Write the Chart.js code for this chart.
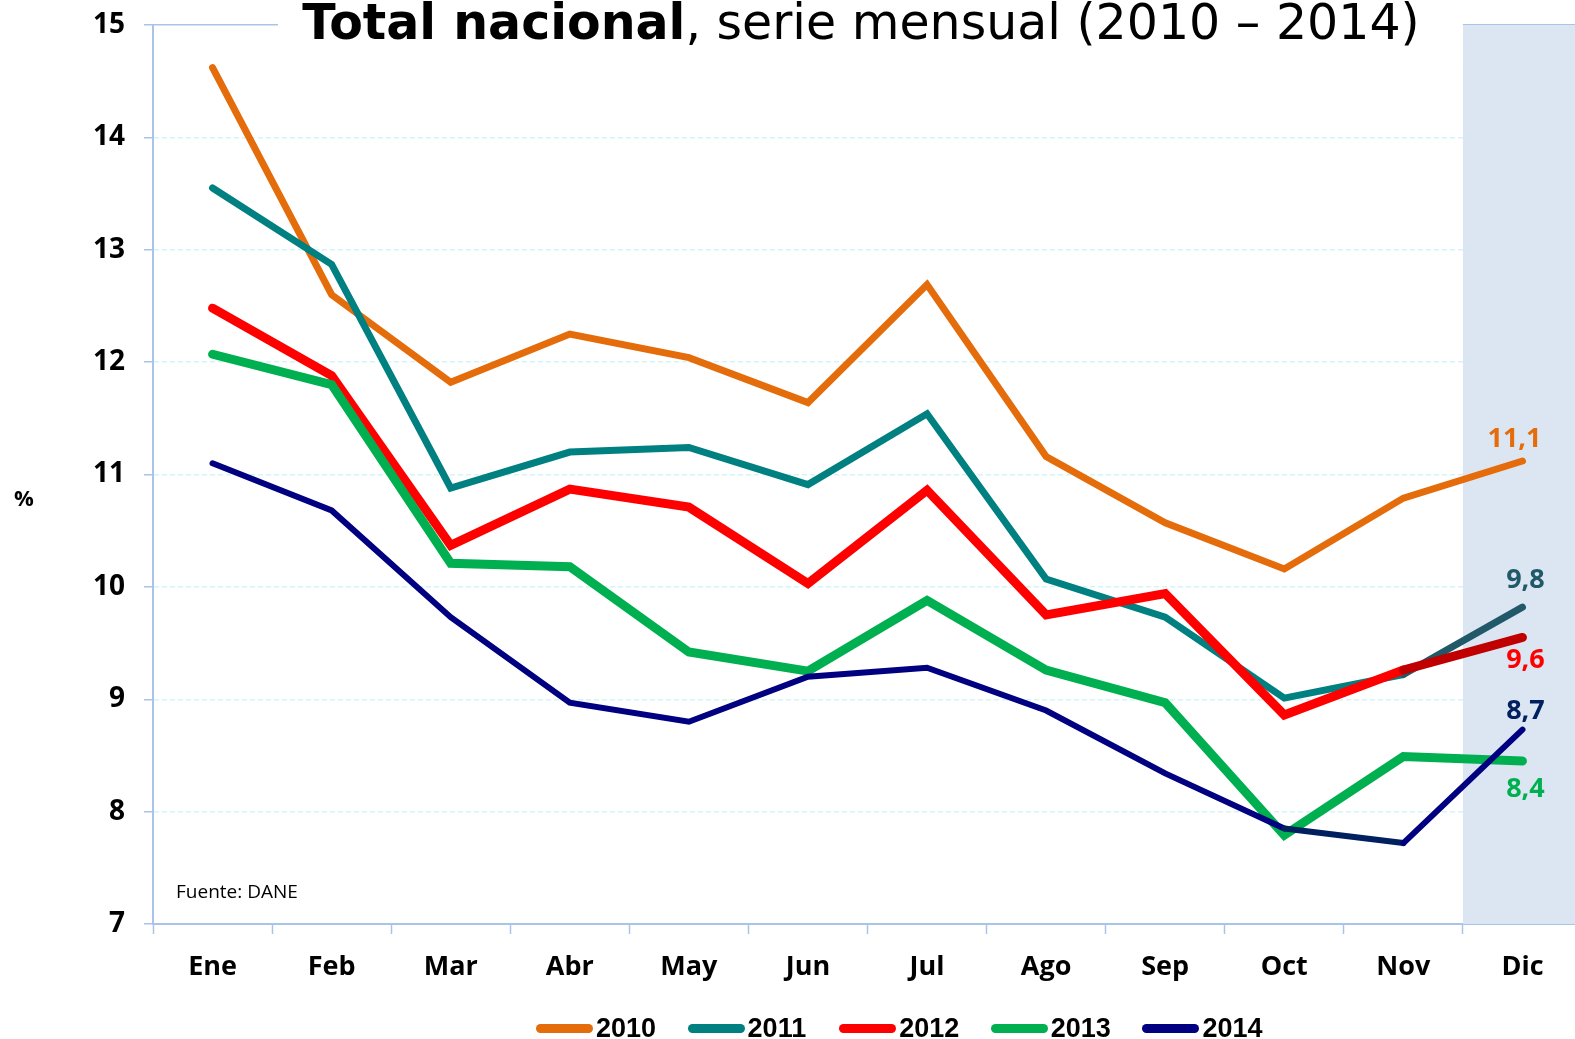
<!DOCTYPE html>
<html>
<head>
<meta charset="utf-8">
<script src="https://cdn.jsdelivr.net/npm/chart.js@4.4.0/dist/chart.umd.min.js"></script>
<style>
    body { margin: 0; background: #fff; overflow: hidden; }
    #wrap { position: relative; width: 1575px; height: 1039px; overflow: hidden; }
    #legend { position: absolute; left: 536px; top: 1013px; display: flex; }
    .legend-item { display: flex; align-items: center; width: 151.6px; height: 30px; }
    .legend-color { display: inline-block; width: 57px; height: 9px; border-radius: 5px; margin-right: 3px; }
    .legend-text { font: bold 27px 'Liberation Sans Narrow', 'Liberation Sans', sans-serif; color: #000; line-height: 30px; }
</style>
</head>
<body>
<div id="wrap">
    <!-- the plot runs a few pixels past the right edge in the original -->
    <canvas id="chart" width="1582" height="1039"></canvas>
    <div id="legend"></div>
</div>
<script>
const months = ['Ene', 'Feb', 'Mar', 'Abr', 'May', 'Jun', 'Jul', 'Ago', 'Sep', 'Oct', 'Nov', 'Dic'];
const years = ['2010', '2011', '2012', '2013', '2014'];
const s2010 = [14.62, 12.60, 11.82, 12.25, 12.04, 11.64, 12.69, 11.16, 10.57, 10.16, 10.79, 11.12];
const s2011 = [13.55, 12.87, 10.88, 11.20, 11.24, 10.91, 11.54, 10.07, 9.73, 9.01, 9.22, 9.82];
const s2012 = [12.48, 11.88, 10.37, 10.87, 10.71, 10.03, 10.86, 9.75, 9.94, 8.86, 9.26, 9.55];
const s2013 = [12.07, 11.80, 10.21, 10.18, 9.42, 9.25, 9.88, 9.26, 8.97, 7.79, 8.49, 8.45];
const s2014 = [11.10, 10.68, 9.73, 8.97, 8.80, 9.20, 9.28, 8.90, 8.34, 7.85, 7.72, 8.73];
const endLabels = ['11,1', '9,8', '9,6', '8,4', '8,7'];
const yTicks = [7, 8, 9, 10, 11, 12, 13, 14, 15];

const colors = ['#E46C0A', '#008080', '#FF0000', '#00B050', '#000080'];
const labelColors = ['#E46C0A', '#215968', '#FF0000', '#00B050', '#002060'];
const widths = [7, 7, 9, 9, 6];
// a few segments are drawn in a darker shade in the original
const darkSegments = { 1: { 10: '#215968' }, 2: { 10: '#C00000' }, 4: { 9: '#002060' } };
const labelOffsets = [[-8, -22], [3, -27], [3, 23], [3, 28], [3, -18]];
const axisColor = '#A9C4E8';

Chart.defaults.font.family = "'Open Sans', sans-serif";
Chart.defaults.color = '#000';

const series = [s2010, s2011, s2012, s2013, s2014];

const extras = {
    id: 'extras',
    beforeDatasetsDraw(chart) {
        const ctx = chart.ctx;
        const a = chart.chartArea;
        const x = chart.scales.x;
        const xs = (x.getPixelForValue(10) + x.getPixelForValue(11)) / 2;
        ctx.save();
        ctx.fillStyle = '#DCE6F2';
        ctx.fillRect(xs, a.top, a.right - xs, a.bottom - a.top);
        // title box
        ctx.fillStyle = '#fff';
        ctx.fillRect(278, 0, xs - 278, 60);
        ctx.fillStyle = '#000';
        ctx.textBaseline = 'alphabetic';
        const bold = "bold 49px 'DejaVu Sans'";
        const reg = "49px 'DejaVu Sans'";
        const t1 = 'Total nacional';
        const t2 = ', serie mensual (2010 \u2013 2014)';
        ctx.font = bold;
        const w1 = ctx.measureText(t1).width;
        ctx.font = reg;
        const w2 = ctx.measureText(t2).width;
        const x0 = 861 - (w1 + w2) / 2;
        ctx.font = bold;
        ctx.fillText(t1, x0, 39);
        ctx.font = reg;
        ctx.fillText(t2, x0 + w1, 39);
        // axis unit and source
        ctx.font = "bold 22px 'Open Sans'";
        ctx.textAlign = 'center';
        ctx.textBaseline = 'middle';
        ctx.fillText('%', 24, 500);
        ctx.font = "19px 'Open Sans'";
        ctx.textAlign = 'left';
        ctx.fillText('Fuente: DANE', 176, 893);
        ctx.restore();
    },
    afterDatasetsDraw(chart) {
        const ctx = chart.ctx;
        ctx.save();
        ctx.font = "bold 27px 'Open Sans'";
        ctx.textAlign = 'center';
        ctx.textBaseline = 'middle';
        chart.data.datasets.forEach((ds, i) => {
            const pts = chart.getDatasetMeta(i).data;
            const p = pts[pts.length - 1];
            ctx.fillStyle = labelColors[i];
            ctx.fillText(endLabels[i], p.x + labelOffsets[i][0], p.y + labelOffsets[i][1]);
        });
        ctx.restore();
    }
};

const chart = new Chart(document.getElementById('chart').getContext('2d'), {
    type: 'line',
    data: {
        labels: months,
        datasets: years.map((y, i) => ({
            label: y,
            data: series[i],
            borderColor: colors[i],
            backgroundColor: colors[i],
            borderWidth: widths[i],
            borderCapStyle: 'round',
            borderJoinStyle: 'miter',
            pointRadius: 0,
            tension: 0,
            order: 5 - i,
            segment: {
                borderColor: c => (darkSegments[i] && darkSegments[i][c.p0DataIndex]) || colors[i]
            }
        }))
    },
    options: {
        responsive: false,
        animation: false,
        devicePixelRatio: 1,
        layout: { padding: { top: 25, right: 0, left: 0, bottom: 0 } },
        plugins: {
            legend: { display: false },
            tooltip: { enabled: false }
        },
        scales: {
            x: {
                offset: true,
                grid: { offset: true, drawOnChartArea: false, tickLength: 10, tickColor: axisColor, tickWidth: 1.5 },
                border: { color: axisColor, width: 2 },
                ticks: { font: { size: 27, weight: 'bold' }, padding: 17, maxRotation: 0 },
                afterFit: s => { s.height = 115; s.paddingLeft = 0; s.paddingRight = 0; }
            },
            y: {
                min: 7,
                max: 15,
                afterBuildTicks: s => { s.ticks = yTicks.map(v => ({ value: v })); },
                grid: {
                    color: c => c.tick && c.tick.value === 15 ? axisColor : '#D2F6F8',
                    lineWidth: 1.5,
                    tickLength: 9,
                    tickColor: axisColor
                },
                border: {
                    color: axisColor,
                    width: 2,
                    dash: c => c.tick && c.tick.value === 15 ? [] : [5, 3]
                },
                ticks: { font: { size: 28, weight: 'bold' }, padding: 19 },
                afterFit: s => { s.width = 153; s.paddingTop = 0; s.paddingBottom = 0; }
            }
        }
    },
    plugins: [extras]
});

document.getElementById('legend').innerHTML = chart.data.datasets.map(ds => `
    <div class="legend-item">
        <span class="legend-color" style="background-color: ${ds.borderColor};"></span>
        <span class="legend-text">${ds.label}</span>
    </div>`).join('');
</script>
</body>
</html>
